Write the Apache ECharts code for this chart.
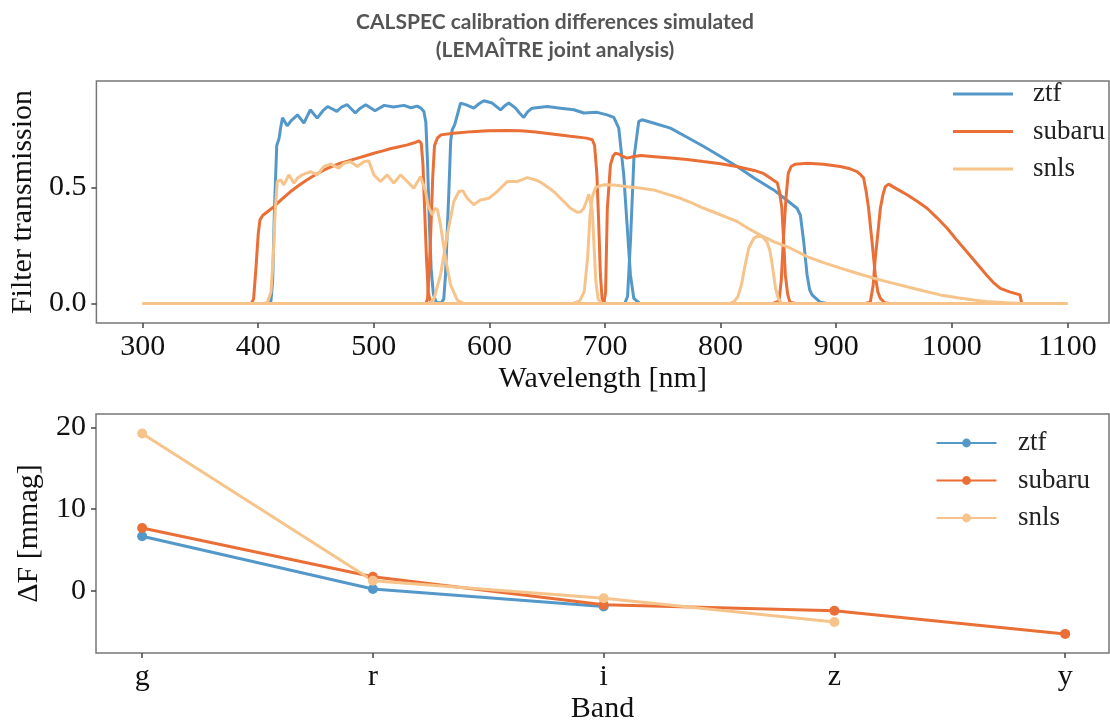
<!DOCTYPE html>
<html>
<head>
<meta charset="utf-8">
<script src="https://cdn.jsdelivr.net/npm/echarts@6/dist/echarts.min.js"></script>
<style>
  html, body { margin: 0; padding: 0; background: #ffffff; }
  #chart { width: 1110px; height: 725px; }
</style>
</head>
<body>
<div id="chart"></div>
<script>
// ---- Filter transmission curves: [wavelength (nm), transmission] ----
const ztfG = [[367,0],[408,0],[411,0.01],[412.5,0.1],[414,0.4],[416,0.68],[418,0.71],[419.5,0.76],[421,0.8],[425,0.765],[429,0.79],[434,0.812],[439.5,0.777],[445,0.834],[451,0.798],[456,0.83],[460,0.848],[468,0.827],[472,0.845],[477,0.856],[484,0.82],[488,0.84],[493,0.856],[501,0.83],[509,0.853],[517,0.846],[526,0.853],[532,0.843],[537.6,0.85],[541,0.84],[543.3,0.827],[545,0.78],[546.5,0.6],[548,0.35],[549.6,0.15],[551.5,0.04],[554,0.005],[560,0],[1000,0]];
const ztfR = [[367,0],[558,0],[560.5,0.02],[562,0.123],[564.9,0.48],[566.5,0.7],[567.8,0.748],[570,0.77],[575,0.863],[580,0.855],[586.5,0.841],[591,0.86],[595.2,0.873],[602.4,0.863],[609.6,0.834],[613,0.85],[616.8,0.863],[622.6,0.841],[626,0.82],[629.7,0.801],[633,0.825],[637,0.841],[650,0.848],[661.5,0.841],[673,0.834],[681.6,0.82],[693.2,0.823],[701.8,0.812],[707.6,0.801],[711.9,0.755],[716.2,0.554],[719.1,0.338],[722,0.123],[724.9,0.022],[730,0],[1000,0]];
const ztfI = [[367,0],[717,0],[719.5,0.03],[722,0.266],[725,0.626],[729.2,0.784],[732.1,0.791],[744,0.774],[756.6,0.755],[771,0.716],[785.4,0.676],[800,0.633],[814.3,0.59],[829,0.54],[845.9,0.489],[856,0.45],[866.1,0.41],[869,0.381],[871.9,0.266],[874.8,0.123],[877,0.06],[879.1,0.037],[886.3,0.005],[892,0],[1000,0]];

const subaruG = [[380,0],[394,0],[396,0.02],[398,0.15],[400,0.3],[401.5,0.36],[404,0.38],[408,0.395],[413.6,0.417],[420,0.447],[428,0.482],[435,0.508],[442,0.532],[449,0.553],[457,0.575],[464,0.59],[471,0.604],[478,0.614],[486,0.626],[493,0.636],[500,0.647],[507,0.656],[514,0.666],[521,0.674],[529,0.683],[535,0.692],[539,0.7],[541,0.69],[542.5,0.6],[544,0.4],[545.5,0.2],[547,0.05],[549,0.005],[552,0],[1060,0]];
const subaruR = [[380,0],[545,0],[546.5,0.02],[548,0.15],[549.5,0.34],[551,0.55],[552.5,0.68],[555,0.712],[558,0.726],[569,0.733],[585,0.74],[598,0.744],[615,0.745],[627,0.744],[640,0.738],[656,0.729],[670,0.72],[684,0.712],[689,0.705],[691,0.68],[693,0.554],[694.6,0.338],[696,0.123],[697.5,0.02],[700,0],[1060,0]];
const subaruI = [[380,0],[699,0],[700.5,0.05],[702,0.41],[704.7,0.597],[707,0.635],[709,0.647],[712,0.643],[716,0.632],[719,0.626],[725,0.633],[731,0.637],[743,0.632],[757,0.626],[771,0.62],[785,0.611],[800,0.602],[814,0.59],[829,0.573],[837,0.56],[843,0.54],[846,0.53],[849,0.52],[851,0.48],[853,0.41],[854.6,0.266],[856,0.123],[858,0.04],[860,0.005],[865,0],[1060,0]];
const subaruZ = [[380,0],[845,0],[850.5,0.01],[852.5,0.1],[854.6,0.3],[856.5,0.45],[858.5,0.56],[861,0.59],[864.7,0.6],[875,0.604],[889,0.6],[903.6,0.59],[912,0.58],[918,0.568],[921,0.555],[923.7,0.54],[926,0.48],[928,0.41],[931,0.266],[933.8,0.123],[936,0.05],[938.2,0.022],[942,0.003],[946,0],[1060,0]];
const subaruY = [[380,0],[925,0],[929.5,0.005],[932,0.08],[933.8,0.195],[936,0.3],[938.2,0.41],[940.5,0.47],[942.5,0.503],[945.4,0.514],[950,0.5],[955,0.486],[961.3,0.468],[970,0.44],[978.6,0.41],[987,0.37],[996,0.324],[1004,0.275],[1013,0.223],[1022,0.17],[1030,0.123],[1036,0.09],[1042,0.065],[1050,0.05],[1059,0.037],[1060,0.03],[1060.5,0]];

const snlsG = [[300,0],[405,0],[408,0.005],[411,0.05],[413,0.2],[414.5,0.38],[416.4,0.525],[419.4,0.532],[422.2,0.511],[426.5,0.554],[430.9,0.518],[434,0.54],[438.1,0.554],[445.3,0.568],[451.1,0.554],[456.8,0.59],[462.6,0.6],[469.8,0.583],[474.1,0.604],[479.9,0.61],[485.7,0.59],[491.4,0.61],[495.7,0.614],[500,0.554],[505.8,0.525],[511.6,0.554],[517.3,0.518],[523.1,0.554],[528.9,0.525],[534.6,0.496],[540.4,0.547],[544.8,0.482],[547,0.42],[550.5,0.381],[553,0.41],[555,0.405],[557.7,0.338],[562,0.195],[566.4,0.08],[572.2,0.014],[578,0],[1100,0]];
const snlsR = [[300,0],[548,0],[552,0.02],[557.7,0.123],[563.5,0.295],[569.2,0.439],[573.6,0.482],[577,0.485],[580.8,0.453],[586.5,0.425],[592.3,0.446],[599.5,0.453],[606.7,0.482],[615.4,0.525],[624,0.525],[632.7,0.542],[639.9,0.532],[645,0.52],[650,0.503],[656,0.48],[661.5,0.453],[670.1,0.41],[675.9,0.393],[679,0.395],[681.6,0.41],[684,0.44],[686,0.47],[687.5,0.47],[689,0.4],[690.5,0.25],[692,0.1],[694,0.02],[697,0],[1100,0]];
const snlsI = [[300,0],[672,0],[678,0.01],[682,0.05],[685,0.2],[687,0.38],[689,0.46],[692,0.5],[698.9,0.511],[708,0.51],[719.1,0.503],[730,0.497],[742.1,0.489],[753,0.472],[765.2,0.453],[775,0.433],[785.4,0.41],[800,0.382],[814.3,0.353],[825,0.32],[834.3,0.295],[845.9,0.266],[860.4,0.238],[874.8,0.202],[889,0.176],[903.6,0.152],[918,0.13],[932.4,0.109],[947,0.09],[961.3,0.072],[975,0.055],[990,0.037],[1005,0.025],[1018.9,0.015],[1033,0.007],[1047.7,0.003],[1060,0],[1100,0]];
const snlsZ = [[300,0],[808,0],[812,0.01],[815,0.03],[818,0.08],[821,0.16],[824.3,0.238],[828.7,0.281],[832,0.29],[836,0.288],[840,0.266],[842.5,0.23],[844.3,0.18],[846,0.12],[847.5,0.065],[850,0.02],[853,0],[1100,0]];

// ---- Flux differences per band (mmag) ----
const bands = ['g', 'r', 'i', 'z', 'y'];
const dfZtf = [6.67, 0.2, -1.94];
const dfSubaru = [7.67, 1.7, -1.74, -2.47, -5.3];
const dfSnls = [19.27, 1.21, -0.93, -3.84];

// ---- Tick labels ----
const waveTicks = [300, 400, 500, 600, 700, 800, 900, 1000, 1100];
const transTicks = [0, 0.5];
const dfTicks = [0, 10, 20];
const bandTicks = [0, 1, 2, 3, 4];

const surveys = ['ztf', 'subaru', 'snls'];
const COLORS = { ztf: '#5498c9', subaru: '#ea6f37', snls: '#f6c48b' };
const SERIF = '"Liberation Serif", "Times New Roman", serif';

const chart = echarts.init(document.getElementById('chart'), null, { renderer: 'canvas' });

const axisTick = { show: true, length: 5, lineStyle: { color: '#444', width: 1.5 } };
const axisLabelStyle = { fontFamily: SERIF, fontSize: 30, color: '#111' };
const nameStyle = { fontFamily: SERIF, fontSize: 30, color: '#111' };

// panel 2: ΔF markers and lines (listed first so the legend picks their line+marker icons)
const dfSeries = [['ztf', dfZtf], ['subaru', dfSubaru], ['snls', dfSnls]].map(([name, vals]) => ({
  name,
  type: 'line',
  xAxisIndex: 1,
  yAxisIndex: 1,
  data: vals.map((v, i) => [i, v]),
  symbol: 'circle',
  symbolSize: 10,
  showSymbol: true,
  lineStyle: { width: 3, color: COLORS[name] },
  itemStyle: { color: COLORS[name] },
  emphasis: { disabled: true },
  z: 3
}));

// panel 1: filter transmission curves
const curves = [
  ['ztf', ztfG], ['ztf', ztfR], ['ztf', ztfI],
  ['subaru', subaruG], ['subaru', subaruR], ['subaru', subaruI], ['subaru', subaruZ], ['subaru', subaruY],
  ['snls', snlsG], ['snls', snlsR], ['snls', snlsI], ['snls', snlsZ]
];
const filterSeries = curves.map(([name, pts], k) => ({
  name,
  type: 'line',
  xAxisIndex: 0,
  yAxisIndex: 0,
  data: pts,
  symbol: 'none',
  showSymbol: false,
  lineStyle: { width: 3, color: COLORS[name] },
  itemStyle: { color: COLORS[name] },
  emphasis: { disabled: true },
  z: 2 + k * 0.01
}));

const option = {
  animation: false,
  backgroundColor: '#ffffff',
  title: {
    text: 'CALSPEC calibration differences simulated\n(LEMAÎTRE joint analysis)',
    left: 'center',
    top: 3,
    textStyle: {
      fontFamily: 'Lato, "Open Sans", sans-serif',
      fontWeight: 'bold',
      fontSize: 21,
      lineHeight: 28,
      color: '#555555',
      align: 'center'
    }
  },
  grid: [
    { left: 96, top: 81, width: 1013, height: 242, show: true, borderColor: '#777', borderWidth: 1.5, backgroundColor: 'transparent' },
    { left: 96, top: 414, width: 1013, height: 241, show: true, borderColor: '#777', borderWidth: 1.5, backgroundColor: 'transparent' }
  ],
  legend: [
    {
      orient: 'vertical', left: 953, top: 80.5, padding: 0,
      itemWidth: 60, itemHeight: 3, itemGap: 10.5, icon: 'rect',
      data: surveys,
      textStyle: { fontFamily: SERIF, fontSize: 27, color: '#222', padding: [0, 0, 0, 15] }
    },
    {
      orient: 'vertical', left: 935.5, top: 429.5, padding: 0,
      itemWidth: 60, itemHeight: 11, itemGap: 10.5,
      data: surveys,
      textStyle: { fontFamily: SERIF, fontSize: 27, color: '#222', padding: [0, 0, 0, 16.5] }
    }
  ],
  xAxis: [
    {
      type: 'value', gridIndex: 0, min: 260, max: 1136,
      name: 'Wavelength [nm]', nameLocation: 'middle', nameGap: 41, nameTextStyle: nameStyle,
      axisLine: { show: false, onZero: false },
      axisTick: Object.assign({ customValues: waveTicks }, axisTick),
      axisLabel: Object.assign({ customValues: waveTicks, margin: 9, formatter: v => String(v) }, axisLabelStyle),
      splitLine: { show: false }
    },
    {
      type: 'value', gridIndex: 1, min: -0.2, max: 4.19,
      name: 'Band', nameLocation: 'middle', nameGap: 41, nameTextStyle: nameStyle,
      axisLine: { show: false, onZero: false },
      axisTick: Object.assign({ customValues: bandTicks }, axisTick),
      axisLabel: Object.assign({ customValues: bandTicks, margin: 9, formatter: v => bands[Math.round(v)] }, axisLabelStyle),
      splitLine: { show: false }
    }
  ],
  yAxis: [
    {
      type: 'value', gridIndex: 0, min: -0.084, max: 0.958,
      name: 'Filter transmission', nameLocation: 'middle', nameGap: 52, nameTextStyle: nameStyle,
      axisLine: { show: false, onZero: false },
      axisTick: Object.assign({ customValues: transTicks }, axisTick),
      axisLabel: Object.assign({ customValues: transTicks, margin: 10, formatter: v => v.toFixed(1) }, axisLabelStyle),
      splitLine: { show: false }
    },
    {
      type: 'value', gridIndex: 1, min: -7.64, max: 21.65,
      name: 'ΔF [mmag]', nameLocation: 'middle', nameGap: 52, nameTextStyle: nameStyle,
      axisLine: { show: false, onZero: false },
      axisTick: Object.assign({ customValues: dfTicks }, axisTick),
      axisLabel: Object.assign({ customValues: dfTicks, margin: 10, formatter: v => String(v) }, axisLabelStyle),
      splitLine: { show: false }
    }
  ],
  series: dfSeries.concat(filterSeries)
};

chart.setOption(option);
</script>
</body>
</html>
